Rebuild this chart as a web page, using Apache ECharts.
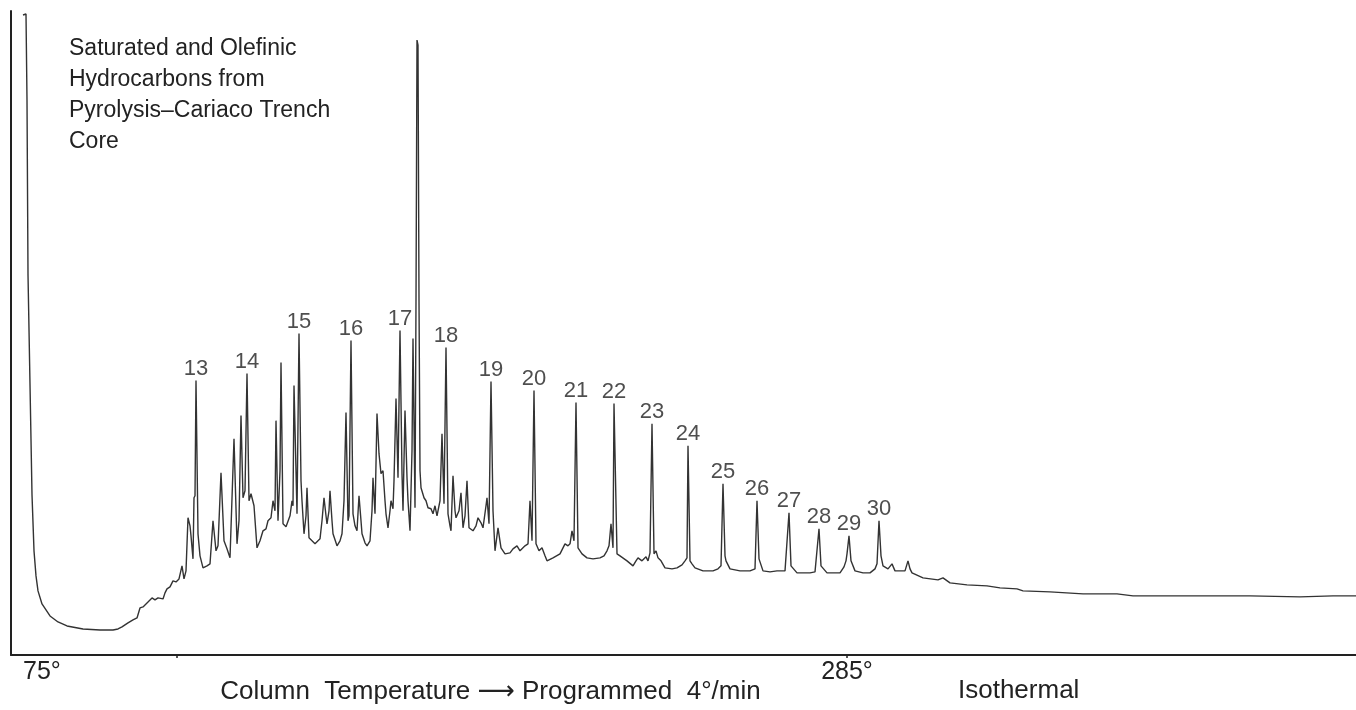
<!DOCTYPE html>
<html>
<head>
<meta charset="utf-8">
<title>Saturated and Olefinic Hydrocarbons - Pyrolysis</title>
<script src="https://cdn.jsdelivr.net/npm/echarts@6/dist/echarts.min.js"></script>
<style>
  html, body { margin: 0; padding: 0; background: #fff; }
  #chart { width: 1356px; height: 710px; }
</style>
</head>
<body>
<div id="chart"></div>
<script>
// chart distance (mm along recorder paper) and detector response (mm)
var retention = [
  6, 7.5, 8, 8.5, 9.5, 10.5, 11.5, 12.5, 13.5, 15.5, 19.5, 23.5, 28, 36, 44.5, 51, 53.5, 55.5, 58.5, 61,
  63, 64.5, 66, 68, 70.5, 72, 73.5, 76, 77, 78, 79.5, 81, 82.5, 84, 85.5, 86.5, 87.5, 88.5, 89.5, 90,
  91, 91.5, 92, 92.5, 93.5, 94.5, 96, 98, 99.5, 101, 102.5, 103.5, 105, 106.5, 108, 109.5, 110.5, 111.5, 113, 114,
  115, 116, 117, 118, 119, 120, 120.5, 121.5, 123, 124.5, 126, 127.5, 128.5, 130, 131, 132, 132.5, 133.5, 134.5, 135,
  136, 137.5, 138.5, 139.5, 140.5, 141, 141.5, 142.5, 143, 144, 145, 145.5, 146.5, 147.5, 148, 149, 150.5, 152, 153.5, 154.5,
  155.5, 156.5, 157.5, 158, 159, 159.5, 160.5, 161, 163, 164.5, 165.5, 166.5, 167.5, 168.5, 169, 170, 171, 172, 173, 174,
  175, 175.5, 177, 178, 179.5, 180.5, 181, 182, 183, 184, 185, 186, 187, 187.5, 188.5, 189.5, 190, 191, 191.5, 192.5,
  193.5, 194.5, 195.5, 196, 197, 198, 198.5, 199.5, 200, 200.5, 201, 202, 202.5, 203, 203.5, 204, 204.5, 205, 206.5, 207.5,
  208.5, 210, 211, 212, 213, 214.5, 215.5, 216.5, 217.5, 218.5, 219.5, 220, 221, 222, 222.5, 224, 225, 226, 227, 228,
  229, 231, 232.5, 233.5, 235, 236, 237.5, 238, 239, 240, 241, 242, 243.5, 245, 247, 249.5, 251, 253, 254.5, 257,
  258.5, 259.5, 260.5, 261.5, 262.5, 264, 265.5, 267, 268, 271, 274.5, 277, 278.5, 279.5, 280.5, 281.5, 282.5, 283.5, 285.5, 288,
  291, 294.5, 296.5, 298, 299, 300, 301, 301.5, 303, 304.5, 308, 311, 312.5, 313.5, 315.5, 317.5, 318.5, 319.5, 320.5, 321.5,
  322.5, 323.5, 325, 327, 330.5, 333, 335.5, 337, 338, 338.5, 339.5, 340.5, 342, 346, 351, 353.5, 355, 356, 357, 357.5,
  359.5, 364.5, 369.5, 372, 373, 374, 376, 379.5, 383, 387, 388, 389, 390, 393, 399.5, 402, 403, 404, 405, 408,
  414.5, 416.5, 417.5, 418, 419, 420, 422, 426, 429.5, 432, 433, 434, 435, 436, 438.5, 440.5, 442, 447, 448.5, 449.5,
  450.5, 456, 463.5, 466, 469.5, 478, 488, 494.5, 503, 506, 519.5, 536, 553, 561, 586, 619.5, 644.5, 661, 672.5
];
var response = [
  319.5, 320, 277, 190, 135, 80, 52, 39.5, 32, 25.5, 19.5, 16.5, 14.5, 13, 12.5, 12.5, 13, 14, 16, 17.5,
  18.5, 23.5, 24, 26, 28.5, 27.5, 28.5, 28, 31, 33, 34, 37, 36.5, 38, 44.5, 38, 42, 68.5, 64.5, 59.5,
  48, 78.5, 79.5, 137, 60.5, 49.5, 43.5, 44.5, 45.5, 67, 52, 54.5, 91, 57, 53, 48.5, 49, 108, 55.5, 67,
  119.5, 78.5, 82, 140.5, 77, 80.5, 81, 74.5, 53.5, 57, 62, 63, 67, 68.5, 77, 72, 117, 67, 92, 146,
  65.5, 64, 63.5, 69.5, 77, 74.5, 134.5, 92, 70.5, 160.5, 87, 77, 60.5, 69.5, 83.5, 58.5, 57, 55.5, 57, 58,
  67, 78.5, 69.5, 65.5, 72, 82, 67, 60.5, 54.5, 57, 60.5, 77, 121, 67, 69.5, 157, 70.5, 64.5, 62, 79.5,
  67, 60.5, 56, 54.5, 57, 72, 88.5, 70.5, 120.5, 100.5, 90.5, 92, 77, 70.5, 63.5, 72, 77, 73, 87, 128,
  88.5, 162, 90.5, 72, 122, 88.5, 77, 62, 82, 102, 158, 73.5, 177, 307, 304.5, 177, 92, 83.5, 78.5, 77,
  73.5, 73, 70.5, 74.5, 69.5, 77, 110.5, 75.5, 153.5, 70.5, 64.5, 62, 89.5, 72, 68.5, 72, 81, 63.5, 69.5, 87,
  63.5, 62, 64.5, 68.5, 66, 63.5, 74.5, 78.5, 65.5, 136.5, 72, 52, 63.5, 53.5, 50.5, 51, 53, 54.5, 52, 54.5,
  55.5, 77, 57, 132, 55.5, 52, 53.5, 49.5, 47, 48.5, 50.5, 55.5, 54.5, 55.5, 62, 57, 126, 53.5, 50.5, 48.5,
  48, 48.5, 49.5, 52, 54.5, 65.5, 53.5, 125.5, 50.5, 49.5, 47, 44.5, 47, 48.5, 47, 49, 47, 51, 115.5, 50.5,
  52, 48.5, 47, 43.5, 43, 43.5, 45, 47, 48.5, 104.5, 47, 45.5, 43.5, 42, 42, 43, 44.5, 85.5, 49.5, 47,
  43, 42, 42, 43, 77, 48, 42, 41.5, 42, 42, 42.5, 71, 44.5, 41, 41, 41.5, 42, 63, 44.5, 41,
  41, 44, 47, 50.5, 59.5, 47, 42, 41, 41, 43, 45.5, 67, 49.5, 44.5, 43, 45.5, 42, 42, 47, 43,
  41, 38.5, 37.5, 38.5, 36, 35, 34.5, 33.5, 33, 32, 31.5, 30.5, 30.5, 29.5, 29.5, 29.5, 29, 29.5, 29.5
];

// n-alkane peaks (carbon number) with their apex
var peakCarbons = [13, 14, 15, 16, 17, 18, 19, 20, 21, 22, 23, 24, 25, 26, 27, 28, 29, 30];
var peakRetention = [92.5, 118, 144, 170, 194.5, 217.5, 240, 261.5, 282.5, 301.5, 320.5, 338.5, 356, 373, 389, 404, 419, 434];
var peakResponse = [137, 140.5, 160.5, 157, 162, 153.5, 136.5, 132, 126, 125.5, 115.5, 104.5, 85.5, 77, 71, 63, 59.5, 67];

// temperature marks on the time axis
var tempMarks = [0, 418];
var tempLabels = ['75°', '285°'];
var tickMarks = [83, 418];

var FONT = '"Liberation Sans", "DejaVu Sans", sans-serif';
var INK = '#222';

var trace = retention.map(function (x, i) { return [x, response[i]]; });
var peaks = peakCarbons.map(function (c, i) { return [peakRetention[i], peakResponse[i], c]; });

var chart = echarts.init(document.getElementById('chart'));

var option = {
    backgroundColor: '#fff',
    animation: false,
    title: {
        text: 'Saturated and Olefinic\nHydrocarbons from\nPyrolysis\u2013Cariaco Trench\nCore',
        left: 64,
        top: 28,
        textStyle: {
            fontFamily: FONT,
            fontSize: 23,
            fontWeight: 'normal',
            lineHeight: 31,
            color: INK
        }
    },
    grid: {
        left: 11,
        right: 0,
        top: 11,
        bottom: 55,
        outerBoundsMode: 'none'
    },
    xAxis: {
        type: 'value',
        min: 0,
        max: 672.5,
        name: 'Column  Temperature \u27F6 Programmed  4\u00B0/min',
        nameLocation: 'middle',
        nameGap: 24,
        nameMoveOverlap: false,
        nameTextStyle: {
            fontFamily: FONT,
            fontSize: 26,
            color: INK,
            padding: [0, 386, 0, 0]
        },
        axisLine: { lineStyle: { color: INK, width: 2 } },
        axisTick: {
            show: true,
            customValues: tickMarks,
            length: 3,
            lineStyle: { color: INK, width: 1.5 }
        },
        axisLabel: {
            customValues: tempMarks,
            alignMinLabel: 'left',
            margin: 5,
            fontFamily: FONT,
            fontSize: 25,
            color: INK,
            formatter: function (v) {
                var i = tempMarks.indexOf(v);
                return i === 0 ? '{pad|' + tempLabels[i] + '}' : tempLabels[i];
            },
            rich: {
                pad: { fontFamily: FONT, fontSize: 25, color: INK, padding: [0, 0, 0, 12] }
            }
        },
        splitLine: { show: false }
    },
    yAxis: {
        type: 'value',
        min: 0,
        max: 321.5,
        axisLine: { show: true, lineStyle: { color: INK, width: 2 } },
        axisTick: { show: false },
        axisLabel: { show: false },
        splitLine: { show: false }
    },
    graphic: [
        {
            type: 'text',
            left: 958,
            top: 678,
            style: {
                text: 'Isothermal',
                fontFamily: FONT,
                fontSize: 26,
                fill: INK
            }
        }
    ],
    series: [
        {
            name: 'trace',
            type: 'line',
            data: trace,
            showSymbol: false,
            smooth: false,
            clip: true,
            lineStyle: { color: '#333', width: 1.4 },
            z: 2
        },
        {
            name: 'carbon number',
            type: 'scatter',
            data: peaks,
            symbolSize: 0,
            silent: true,
            label: {
                show: true,
                position: 'top',
                distance: 1,
                fontFamily: FONT,
                fontSize: 22,
                color: INK,
                formatter: function (p) { return p.value[2]; }
            },
            z: 3
        }
    ]
};

chart.setOption(option);
</script>
</body>
</html>
